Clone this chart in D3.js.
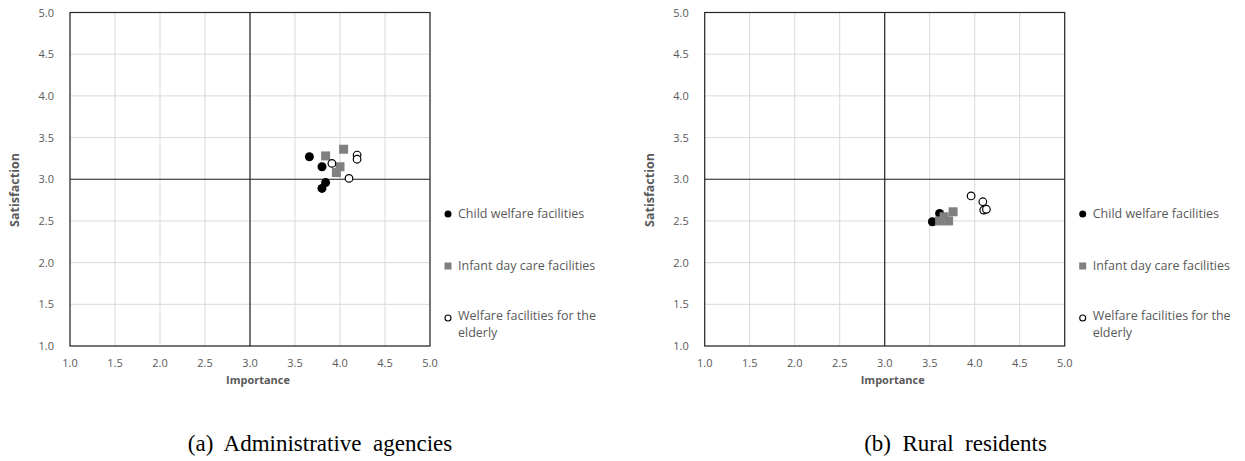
<!DOCTYPE html>
<html>
<head>
<meta charset="utf-8">
<script src="https://cdnjs.cloudflare.com/ajax/libs/d3/7.8.5/d3.min.js"></script>
<style>
  body { margin: 0; background: #fff; }
  svg text { font-family: "Open Sans", "DejaVu Sans", sans-serif; }
</style>
</head>
<body>
<svg id="chart" width="1245" height="461"></svg>
<script>
var ticks = [1.0, 1.5, 2.0, 2.5, 3.0, 3.5, 4.0, 4.5, 5.0];
var seriesNames = ['Child welfare facilities', 'Infant day care facilities', 'Welfare facilities for the', 'elderly'];

// panel (a) administrative agencies: [importance, satisfaction]
var adminChild = [[3.66, 3.27], [3.80, 3.15], [3.84, 2.96], [3.80, 2.89]];
var adminInfant = [[4.04, 3.36], [3.84, 3.28], [4.00, 3.15], [3.96, 3.08]];
var adminElderly = [[3.91, 3.19], [4.19, 3.29], [4.19, 3.24], [4.10, 3.01]];

// panel (b) rural residents
var ruralChild = [[3.61, 2.59], [3.53, 2.49]];
var ruralInfant = [[3.76, 2.61], [3.66, 2.55], [3.71, 2.50], [3.61, 2.50]];
var ruralElderly = [[3.96, 2.80], [4.09, 2.73], [4.10, 2.63], [4.13, 2.64]];

var captions = ['(a)  Administrative  agencies', '(b)  Rural  residents'];

var svg = d3.select('#chart');

function drawPanel(left, child, infant, elderly, caption, captionX) {
  var x = d3.scaleLinear().domain([1, 5]).range([left, left + 360]);
  var y = d3.scaleLinear().domain([1, 5]).range([346, 12.5]);
  var g = svg.append('g');

  // grid
  g.selectAll('.vg').data(ticks).enter().append('line')
    .attr('x1', function (d) { return x(d); }).attr('x2', function (d) { return x(d); })
    .attr('y1', y(1)).attr('y2', y(5))
    .attr('stroke', '#d9d9d9').attr('stroke-width', 1);
  g.selectAll('.hg').data(ticks).enter().append('line')
    .attr('y1', function (d) { return y(d); }).attr('y2', function (d) { return y(d); })
    .attr('x1', x(1)).attr('x2', x(5))
    .attr('stroke', '#d9d9d9').attr('stroke-width', 1);

  // frame + crosshair at 3.0
  g.append('rect').attr('x', x(1)).attr('y', y(5))
    .attr('width', x(5) - x(1)).attr('height', y(1) - y(5))
    .attr('fill', 'none').attr('stroke', '#262626').attr('stroke-width', 1.2);
  g.append('line').attr('x1', x(3)).attr('x2', x(3)).attr('y1', y(1)).attr('y2', y(5))
    .attr('stroke', '#262626').attr('stroke-width', 1.2);
  g.append('line').attr('x1', x(1)).attr('x2', x(5)).attr('y1', y(3)).attr('y2', y(3))
    .attr('stroke', '#262626').attr('stroke-width', 1.2);

  // tick labels
  g.selectAll('.xt').data(ticks).enter().append('text')
    .attr('x', function (d) { return x(d); }).attr('y', 367)
    .attr('text-anchor', 'middle').attr('font-size', 11).attr('fill', '#595959')
    .text(function (d) { return d.toFixed(1); });
  g.selectAll('.yt').data(ticks).enter().append('text')
    .attr('x', x(1) - 16).attr('y', function (d) { return y(d) + 4; })
    .attr('text-anchor', 'end').attr('font-size', 11).attr('fill', '#595959')
    .text(function (d) { return d.toFixed(1); });

  g.append('text').attr('x', x(3) + 8).attr('y', 384)
    .attr('text-anchor', 'middle').attr('font-size', 11).attr('font-weight', 'bold')
    .attr('fill', '#595959').text('Importance');
  g.append('text')
    .attr('transform', 'translate(' + (x(1) - 51) + ',190) rotate(-90)')
    .attr('text-anchor', 'middle').attr('font-size', 12.5).attr('font-weight', 'bold')
    .attr('fill', '#595959').text('Satisfaction');

  // points
  g.selectAll('.child').data(child).enter().append('circle')
    .attr('cx', function (d) { return x(d[0]); }).attr('cy', function (d) { return y(d[1]); })
    .attr('r', 4.5).attr('fill', '#000');
  g.selectAll('.infant').data(infant).enter().append('rect')
    .attr('x', function (d) { return x(d[0]) - 4.5; }).attr('y', function (d) { return y(d[1]) - 4.5; })
    .attr('width', 9).attr('height', 9).attr('fill', '#808080');
  g.selectAll('.elderly').data(elderly).enter().append('circle')
    .attr('cx', function (d) { return x(d[0]); }).attr('cy', function (d) { return y(d[1]); })
    .attr('r', 3.8).attr('fill', '#fff').attr('stroke', '#000').attr('stroke-width', 1.2);

  // legend
  var lx = x(5) + 18;
  var ly = [214, 266, 318];
  g.append('circle').attr('cx', lx).attr('cy', ly[0]).attr('r', 3.5).attr('fill', '#000');
  g.append('rect').attr('x', lx - 3.5).attr('y', ly[1] - 3.5).attr('width', 7).attr('height', 7).attr('fill', '#808080');
  g.append('circle').attr('cx', lx).attr('cy', ly[2]).attr('r', 3).attr('fill', '#fff')
    .attr('stroke', '#000').attr('stroke-width', 1.1);
  g.append('text').attr('x', lx + 10).attr('y', ly[0] + 4).attr('font-size', 12.5).attr('fill', '#595959').text(seriesNames[0]);
  g.append('text').attr('x', lx + 10).attr('y', ly[1] + 4).attr('font-size', 12.5).attr('fill', '#595959').text(seriesNames[1]);
  g.append('text').attr('x', lx + 10).attr('y', ly[2] + 2).attr('font-size', 12.5).attr('fill', '#595959').text(seriesNames[2]);
  g.append('text').attr('x', lx + 10).attr('y', ly[2] + 19).attr('font-size', 12.5).attr('fill', '#595959').text(seriesNames[3]);

  // caption
  svg.append('text').attr('x', captionX).attr('y', 451)
    .attr('text-anchor', 'middle')
    .style('font-family', '"Liberation Serif", "Times New Roman", serif')
    .attr('font-size', 23).attr('fill', '#000')
    .style('white-space', 'pre')
    .text(caption);
}

drawPanel(70, adminChild, adminInfant, adminElderly, captions[0], 320);
drawPanel(704.7, ruralChild, ruralInfant, ruralElderly, captions[1], 955.5);
</script>
</body>
</html>
